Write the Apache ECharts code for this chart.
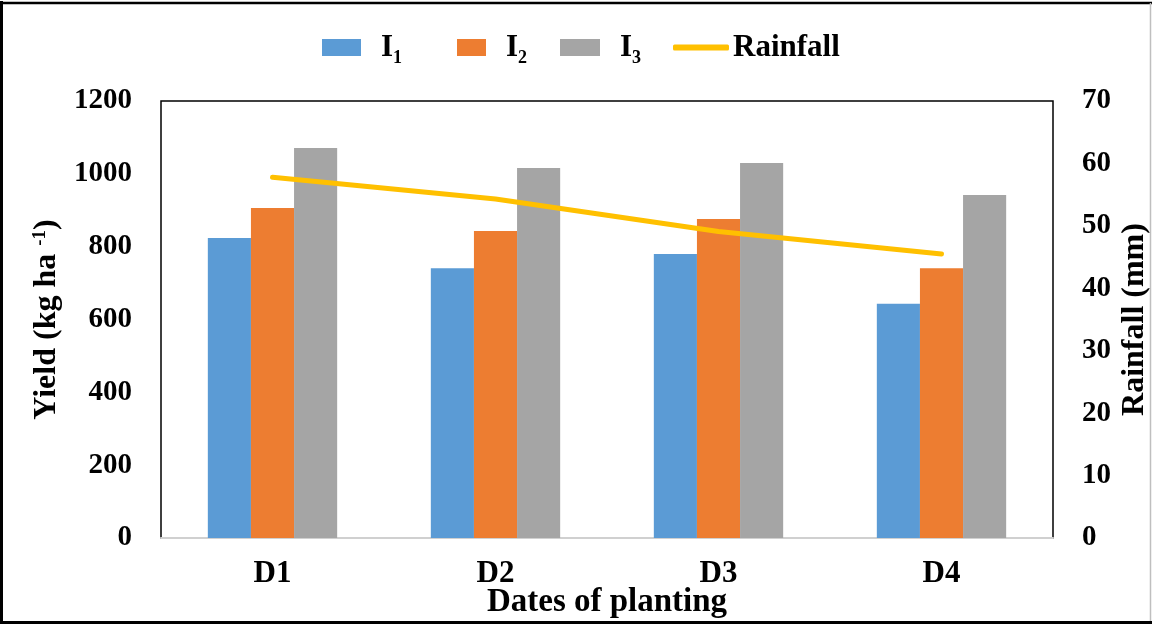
<!DOCTYPE html>
<html>
<head>
<meta charset="utf-8">
<script src="https://cdn.jsdelivr.net/npm/echarts@6/dist/echarts.min.js"></script>
<style>
  html, body { margin: 0; padding: 0; background: #fff; }
  #chart { width: 1152px; height: 625px; }
</style>
</head>
<body>
<div id="chart"></div>
<script>
// Planting dates on the category axis
const categories = ['D1', 'D2', 'D3', 'D4'];
// Yield (kg/ha) for each irrigation level
const yieldI1 = [824, 741, 780, 643];
const yieldI2 = [906, 843, 876, 741];
const yieldI3 = [1071, 1016, 1030, 942];
// Rainfall (mm) per planting date
const rainfall = [57.8, 54.3, 49.1, 45.5];
// Axis ranges
const yieldAxis = { min: 0, max: 1200, interval: 200 };
const rainAxis = { min: 0, max: 70, interval: 10 };

const FONT = "'Liberation Serif', 'Times New Roman', serif";
const colors = { I1: '#5B9BD5', I2: '#ED7D31', I3: '#A5A5A5', Rainfall: '#FFC000' };

const chart = echarts.init(document.getElementById('chart'), null, { renderer: 'canvas' });

const subRich = {
  b: { fontFamily: FONT, fontWeight: 'bold', fontSize: 31, color: '#000', padding: [0, 0, 0, 15] },
  s: { fontFamily: FONT, fontWeight: 'bold', fontSize: 18, color: '#000', verticalAlign: 'bottom', padding: [0, 0, -4, 0] }
};

function legendFor(name, left, width, extra) {
  return Object.assign({
    data: [name],
    left: left,
    top: 32,
    itemWidth: width,
    itemHeight: 17,
    icon: 'rect',
    padding: 0,
    formatter: n => n === 'Rainfall' ? n : '{b|I}{s|' + n.slice(1) + '}',
    textStyle: { fontFamily: FONT, fontWeight: 'bold', fontSize: 31, color: '#000', rich: subRich }
  }, extra || {});
}

const plain = v => String(v);

const option = {
  backgroundColor: '#fff',
  animation: false,
  legend: [
    legendFor('I1', 322, 39),
    legendFor('I2', 457, 29),
    legendFor('I3', 560, 40),
    legendFor('Rainfall', 673, 56, { icon: 'roundRect', itemHeight: 6, textStyle: { fontFamily: FONT, fontWeight: 'bold', fontSize: 31, color: '#000', padding: [0, 0, 0, -1] } })
  ],
  grid: {
    left: 161, top: 101, right: 99, bottom: 87,
    outerBoundsMode: 'none',
    containLabel: false,
    show: true, borderColor: '#000', borderWidth: 1.5, backgroundColor: 'transparent'
  },
  xAxis: {
    type: 'category',
    data: categories,
    axisTick: { show: false },
    axisLine: { lineStyle: { color: '#d0d0d0', width: 2 } },
    axisLabel: { margin: 20, fontFamily: FONT, fontWeight: 'bold', fontSize: 31, color: '#000' },
    name: 'Dates of planting',
    nameLocation: 'middle',
    nameGap: 48,
    nameMoveOverlap: false,
    nameTextStyle: { fontFamily: FONT, fontWeight: 'bold', fontSize: 33, color: '#000' }
  },
  yAxis: [
    {
      type: 'value',
      min: yieldAxis.min, max: yieldAxis.max, interval: yieldAxis.interval,
      splitLine: { show: false },
      axisLine: { show: false },
      axisTick: { show: false },
      axisLabel: { margin: 29, formatter: plain, fontFamily: FONT, fontWeight: 'bold', fontSize: 29, color: '#000' },
      name: '{a|Yield (kg ha }{s|-1}{a|)}',
      nameLocation: 'middle',
      nameRotate: 90,
      nameGap: 98,
      nameMoveOverlap: false,
      nameTextStyle: {
        fontFamily: FONT, fontWeight: 'bold', fontSize: 32, color: '#000',
        rich: {
          a: { fontFamily: FONT, fontWeight: 'bold', fontSize: 32, color: '#000' },
          s: { fontFamily: FONT, fontWeight: 'bold', fontSize: 19, color: '#000', verticalAlign: 'top' }
        }
      }
    },
    {
      type: 'value',
      position: 'right',
      min: rainAxis.min, max: rainAxis.max, interval: rainAxis.interval,
      splitLine: { show: false },
      axisLine: { show: false },
      axisTick: { show: false },
      axisLabel: { margin: 29, formatter: plain, fontFamily: FONT, fontWeight: 'bold', fontSize: 29, color: '#000' },
      name: 'Rainfall (mm)',
      nameLocation: 'middle',
      nameRotate: 90,
      nameGap: 66,
      nameMoveOverlap: false,
      nameTextStyle: { fontFamily: FONT, fontWeight: 'bold', fontSize: 32, color: '#000' }
    }
  ],
  series: [
    { name: 'I1', type: 'bar', data: yieldI1, itemStyle: { color: colors.I1 }, barGap: '0%', barCategoryGap: '42%' },
    { name: 'I2', type: 'bar', data: yieldI2, itemStyle: { color: colors.I2 }, barGap: '0%', barCategoryGap: '42%' },
    { name: 'I3', type: 'bar', data: yieldI3, itemStyle: { color: colors.I3 }, barGap: '0%', barCategoryGap: '42%' },
    {
      name: 'Rainfall', type: 'line', yAxisIndex: 1, data: rainfall,
      symbol: 'none', smooth: false,
      itemStyle: { color: colors.Rainfall },
      lineStyle: { color: colors.Rainfall, width: 5, cap: 'round', join: 'round' },
      z: 5
    }
  ],
  graphic: [
    // outer frame
    { type: 'line', shape: { x1: 1.5, y1: 1, x2: 1.5, y2: 624 }, style: { stroke: '#000', lineWidth: 3 } },
    { type: 'line', shape: { x1: 0, y1: 3, x2: 1152, y2: 3 }, style: { stroke: '#000', lineWidth: 2.5 } },
    { type: 'line', shape: { x1: 0, y1: 622.5, x2: 1152, y2: 622.5 }, style: { stroke: '#000', lineWidth: 3 } },
    { type: 'line', shape: { x1: 1150.5, y1: 3, x2: 1150.5, y2: 621 }, style: { stroke: '#bfbfbf', lineWidth: 1.5 } }
  ]
};

chart.setOption(option);
</script>
</body>
</html>
